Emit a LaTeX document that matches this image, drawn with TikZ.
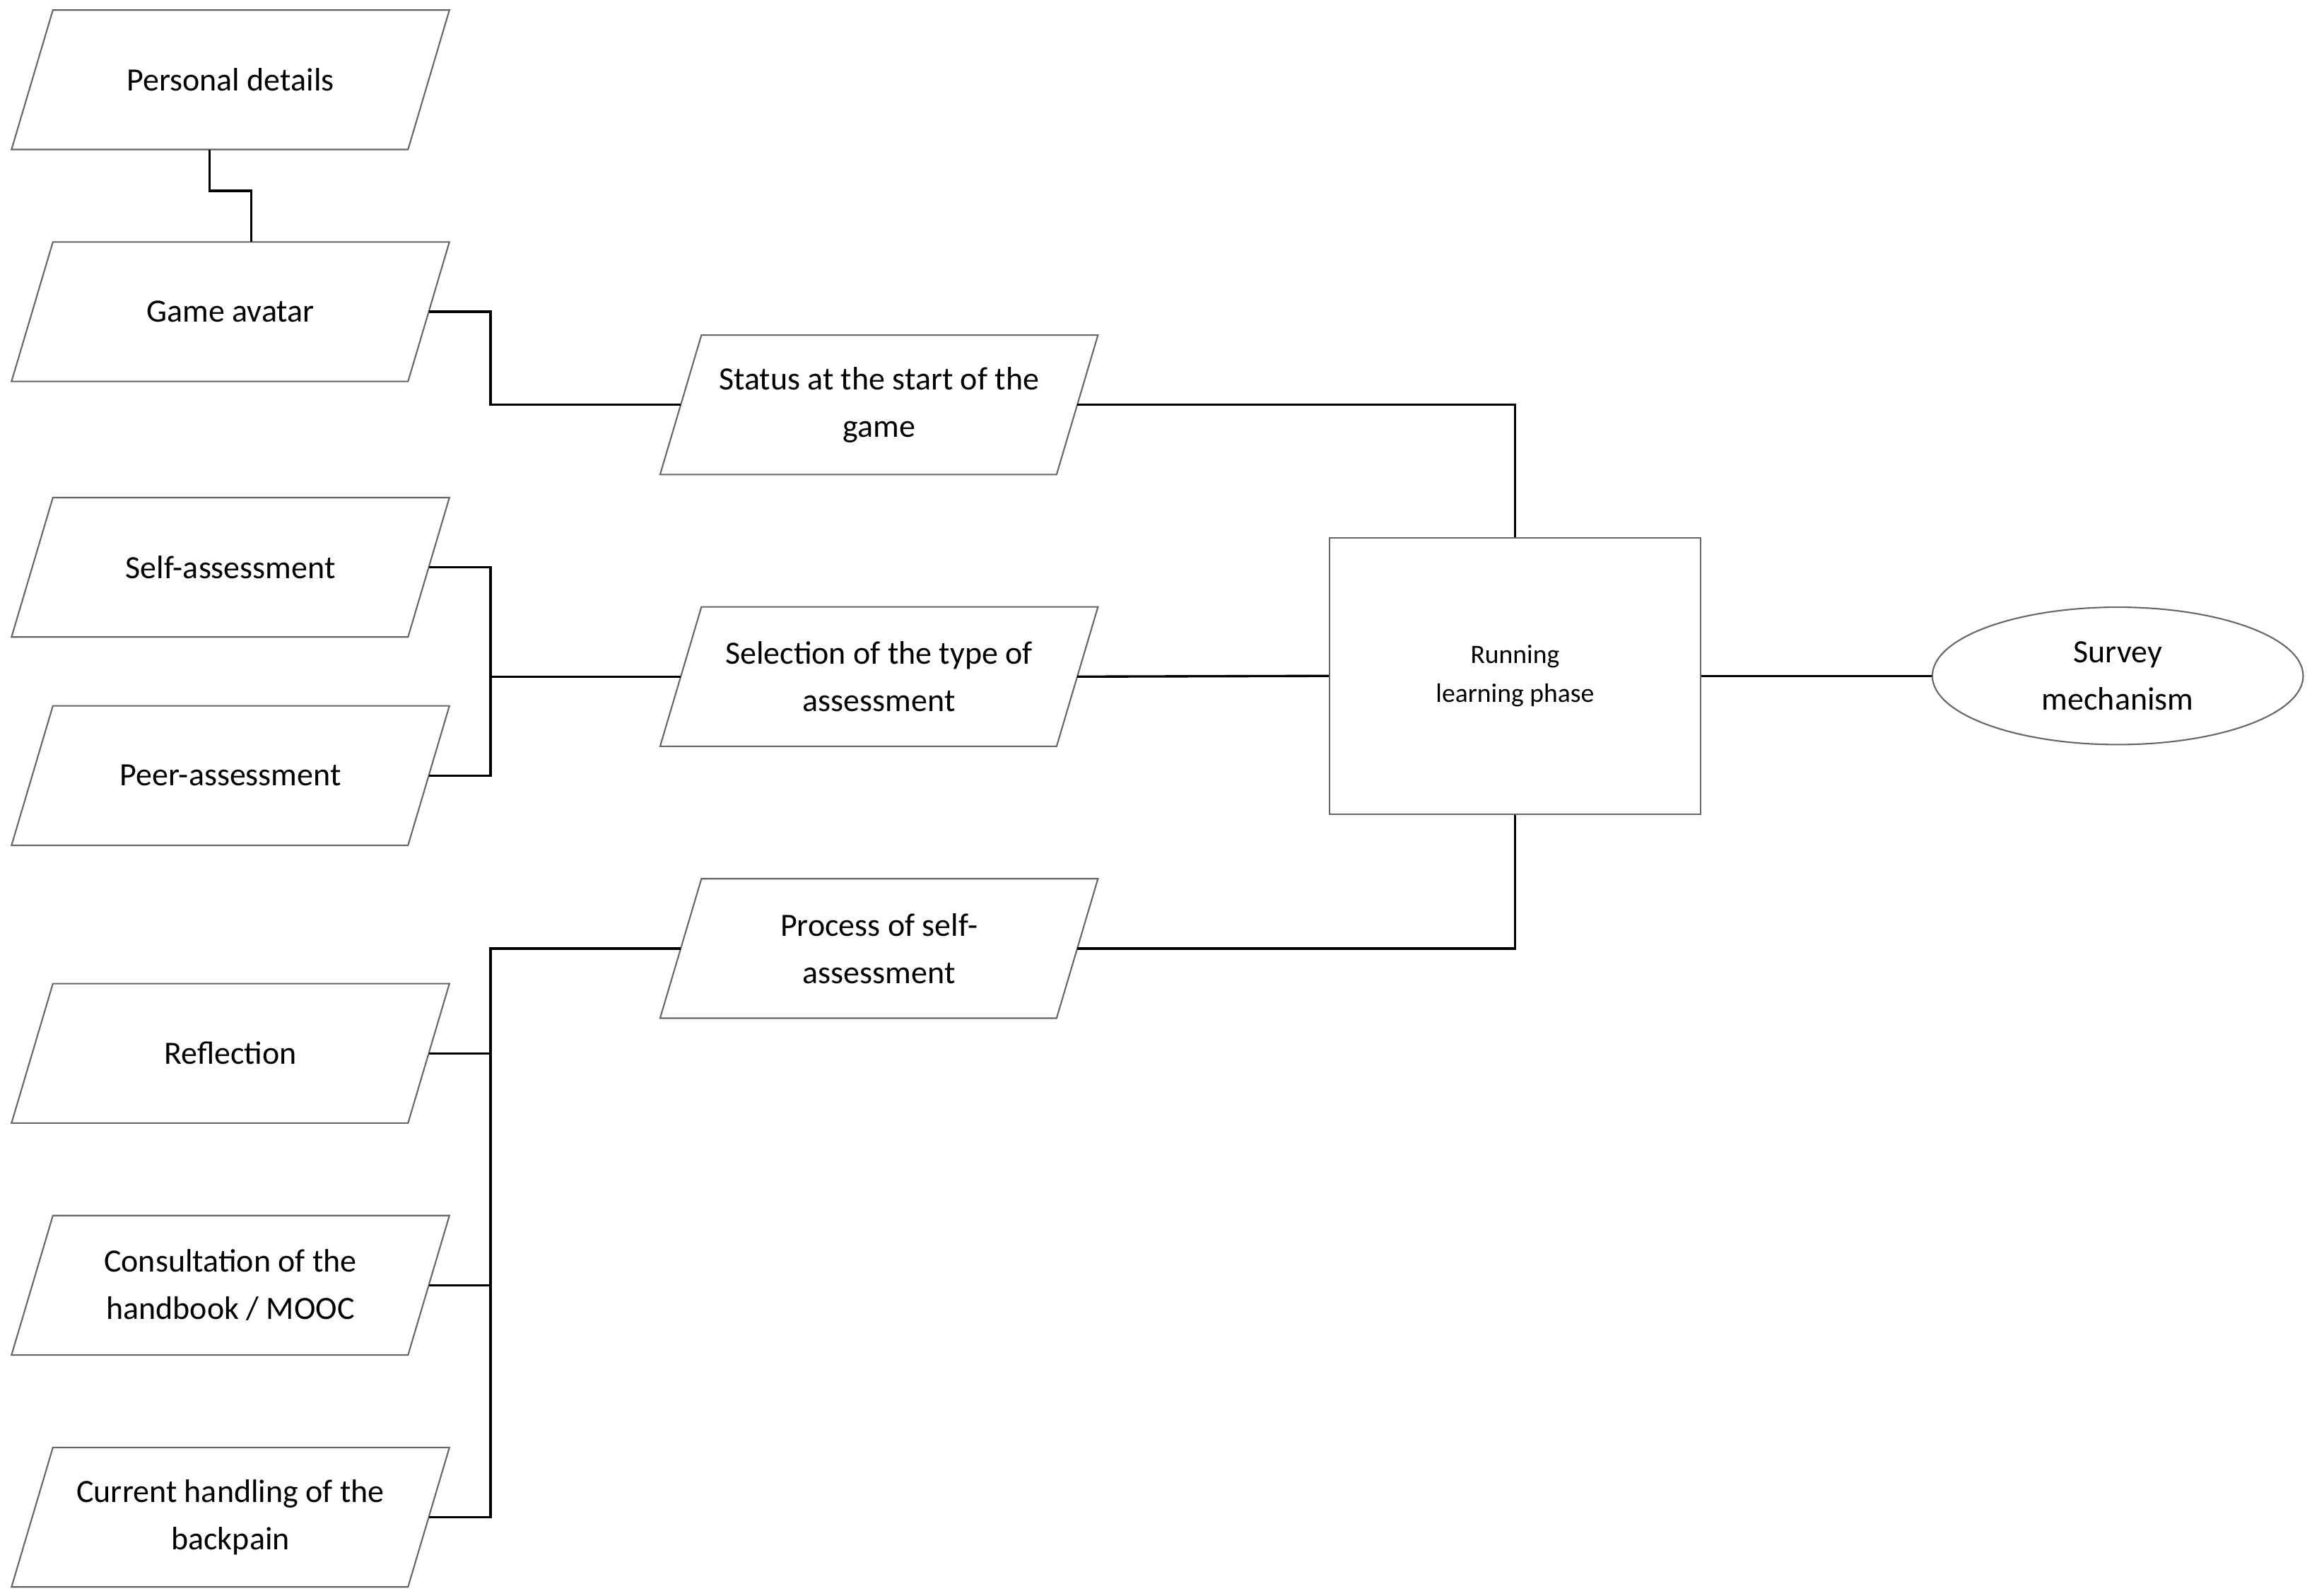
\documentclass[tikz,border=0pt]{standalone}
\usepackage{fontspec}
\setmainfont{Carlito}
\usetikzlibrary{shapes.geometric}
\begin{document}
\begin{tikzpicture}[x=1pt,y=-1pt,
 box/.style={draw=none,minimum width=268pt,minimum height=94pt,inner sep=0pt,align=center,font=\fontsize{22}{32}\selectfont},
 con/.style={draw=black,line width=1.6pt},
 outl/.style={draw=black!60,line width=1pt}]
\useasboundingbox (0,0) rectangle (1565,1080);
\newcommand{\para}[4]{\node[box] (#1) at (#2,#3) {#4};
 \draw[outl] ([xshift=14pt]#1.north west) -- ([xshift=14pt]#1.north east) -- ([xshift=-14pt]#1.south east) -- ([xshift=-14pt]#1.south west) -- cycle;}
\para{pd}{156}{54}{Personal details}
\para{ga}{156}{211}{Game avatar}
\para{sa}{156}{384}{Self-assessment}
\para{pa}{156}{525}{Peer-assessment}
\para{rf}{156}{713}{Reflection}
\para{ch}{156}{870}{Consultation of the\\handbook / MOOC}
\para{cu}{156}{1027}{Current handling of the\\backpain}
\para{st}{595}{274}{Status at the start of the\\game}
\para{se}{595}{458}{Selection of the type of\\assessment}
\para{pr}{595}{642}{Process of self-\\assessment}
\node[draw=black!60,line width=1pt,minimum width=251pt,minimum height=187pt,align=center,font=\fontsize{18}{26}\selectfont] (rl) at (1025.5,457.5) {Running\\learning phase};
\node[ellipse,draw=black!60,line width=1pt,minimum width=251pt,minimum height=93pt,inner sep=0pt,align=center,font=\fontsize{22}{32}\selectfont] (sm) at (1433.5,457.5) {Survey\\mechanism};
\coordinate (j1) at (332,458);
\coordinate (j2) at (332,642);
\draw[con] ([xshift=-14pt]pd.south) -- ++(0,28) -| ([xshift=14pt]ga.north);
\draw[con] (ga.east) -| (332,274) -- (st.west);
\draw[con] (st.east) -| (rl.north);
\draw[con] (sa.east) -| (332,525) -- (pa.east);
\draw[con] (j1) -- (se.west);
\draw[con] (se.east) -- (rl.west);
\draw[con] (pr.east) -| (rl.south);
\draw[con] (pr.west) -- (j2) |- (cu.east);
\draw[con] (rf.east) -- (332,713);
\draw[con] (ch.east) -- (332,870);
\draw[con] (rl.east) -- (sm.west);
\end{tikzpicture}
\end{document}
